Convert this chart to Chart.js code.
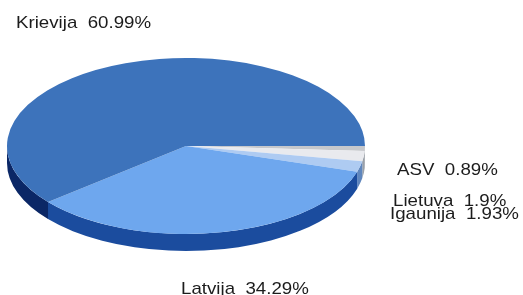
<!DOCTYPE html>
<html>
<head>
<meta charset="utf-8">
<script src="https://cdn.jsdelivr.net/npm/chart.js@4"></script>
<style>
    body { margin: 0; background: #fff; }
    canvas { display: block; }
</style>
</head>
<body>
<canvas id="pieChart" width="523" height="295"></canvas>
<script>
// Data (clockwise from 3 o'clock)
const countries = ["ASV", "Lietuva", "Igaunija", "Latvija", "Krievija"];
const shares = [0.89, 1.9, 1.93, 34.29, 60.99];

const topColors = ["#c6c8cc", "#e9eaee", "#aecbf2", "#6ea7ee", "#3d73bb"];
const sideColors = ["#7c828c", "#9aa0a8", "#5f86bd", "#1b4c9e", "#0b2766"];

// label anchors (left x, baseline y)
const labelPos = [
    [397, 175],
    [393, 206],
    [390, 219],
    [181, 294],
    [16, 28],
];

const tilt = 179 / 88; // horizontal stretch of the pie
const depth = 17;

// squash the pie into an ellipse and give it a side wall
const pie3d = {
    id: "pie3d",
    beforeDatasetsDraw(chart) {
        const ctx = chart.ctx;
        const arcs = chart.getDatasetMeta(0).data;
        const cx = arcs[0].x;
        const cy = arcs[0].y;
        ctx.save();
        ctx.translate(cx, cy);
        ctx.scale(tilt, 1);
        ctx.translate(-cx, -cy);
        arcs.forEach((arc, i) => {
            const a1 = Math.max(arc.startAngle, 0);
            const a2 = Math.min(arc.endAngle, Math.PI);
            if (a2 <= a1) return;
            ctx.beginPath();
            ctx.arc(arc.x, arc.y, arc.outerRadius, a1, a2);
            ctx.arc(arc.x, arc.y + depth, arc.outerRadius, a2, a1, true);
            ctx.closePath();
            ctx.fillStyle = sideColors[i];
            ctx.fill();
        });
    },
    afterDatasetsDraw(chart) {
        chart.ctx.restore();
    },
    afterDraw(chart) {
        const ctx = chart.ctx;
        ctx.save();
        ctx.fillStyle = "#1c1c1c";
        ctx.font = "17px 'Liberation Sans', Arial, sans-serif";
        ctx.textBaseline = "alphabetic";
        countries.forEach((name, i) => {
            ctx.save();
            ctx.translate(labelPos[i][0], labelPos[i][1]);
            ctx.scale(1.1, 1);
            ctx.fillText(name + "  " + shares[i] + "%", 0, 0);
            ctx.restore();
        });
        ctx.restore();
    },
};

new Chart(document.getElementById("pieChart"), {
    type: "pie",
    data: {
        labels: countries,
        datasets: [
            {
                data: shares,
                backgroundColor: topColors,
                borderWidth: 0,
                clip: false,
            },
        ],
    },
    options: {
        responsive: false,
        animation: false,
        rotation: 90,
        layout: {
            padding: { left: 0, right: 151, top: 58, bottom: 61 },
        },
        plugins: {
            legend: { display: false },
            tooltip: { enabled: false },
        },
    },
    plugins: [pie3d],
});
</script>
</body>
</html>
